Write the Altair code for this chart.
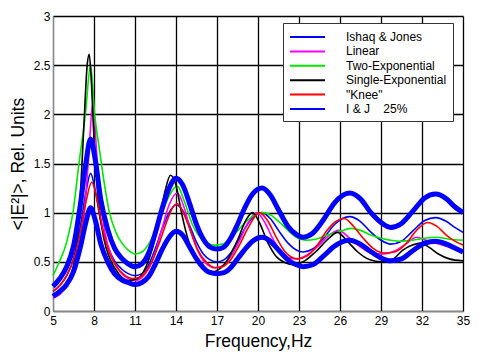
import altair as alt
import pandas as pd

SERIES = ["Ishaq & Jones", "Linear", "Two-Exponential", "Single-Exponential",
          "\"Knee\"", "I & J\u00a0\u00a0\u00a0\u00a025%"]
COLORS = ["#0000ff", "#ff00ff", "#00e600", "#000000", "#ff0000", "#0000ff"]
WIDTHS = [1.6, 1.6, 1.6, 1.6, 1.6, 5]

x_ticks = [5, 8, 11, 14, 17, 20, 23, 26, 29, 32, 35]
y_ticks = [0, 0.5, 1, 1.5, 2, 2.5, 3]

# Ishaq & Jones and its +/-25% band share the same frequencies
ij_x = [5, 5.5, 6, 6.5, 7, 7.4, 7.75, 8.1, 8.5, 9, 9.5, 10, 10.5, 11, 11.5, 12, 12.5, 13, 13.5, 14,
        14.5, 15, 15.5, 16, 16.5, 17, 17.5, 18, 18.5, 19, 19.6, 20.3, 20.9, 21.5, 22.2, 22.8, 23.3,
        24, 24.8, 25.6, 26.7, 27.5, 28.2, 29, 29.7, 30.5, 31.3, 32.2, 33, 33.8, 34.4, 35]
ij_y = [0.2, 0.26, 0.36, 0.53, 0.86, 1.2, 1.4, 1.22, 0.9, 0.66, 0.51, 0.43, 0.38, 0.36, 0.38, 0.47,
        0.64, 0.84, 1.0, 1.08, 1.02, 0.87, 0.7, 0.58, 0.52, 0.5, 0.52, 0.59, 0.7, 0.83, 0.95, 1.0,
        0.94, 0.82, 0.69, 0.62, 0.6, 0.63, 0.74, 0.88, 0.96, 0.91, 0.81, 0.72, 0.68, 0.71, 0.81,
        0.92, 0.95, 0.91, 0.85, 0.8]
ij_hi = [0.25, 0.33, 0.45, 0.66, 1.08, 1.5, 1.75, 1.53, 1.13, 0.83, 0.64, 0.54, 0.48, 0.45, 0.48,
         0.59, 0.8, 1.05, 1.25, 1.35, 1.28, 1.09, 0.88, 0.73, 0.65, 0.63, 0.65, 0.74, 0.88, 1.04,
         1.19, 1.25, 1.18, 1.03, 0.86, 0.78, 0.75, 0.79, 0.93, 1.1, 1.2, 1.14, 1.01, 0.9, 0.85,
         0.89, 1.01, 1.15, 1.19, 1.14, 1.06, 1.0]
ij_lo = [0.15, 0.2, 0.27, 0.4, 0.65, 0.9, 1.05, 0.92, 0.68, 0.5, 0.38, 0.32, 0.29, 0.27, 0.29,
         0.35, 0.48, 0.63, 0.75, 0.81, 0.77, 0.65, 0.53, 0.44, 0.39, 0.38, 0.39, 0.44, 0.53, 0.62,
         0.71, 0.75, 0.71, 0.62, 0.52, 0.47, 0.45, 0.47, 0.56, 0.66, 0.72, 0.68, 0.61, 0.54, 0.51,
         0.53, 0.61, 0.69, 0.71, 0.68, 0.64, 0.6]

lin_x = [5, 5.5, 6, 6.5, 7, 7.3, 7.6, 7.93, 8.15, 8.4, 8.8, 9.3, 9.9, 10.5, 11, 11.5, 12, 12.5, 13,
         13.5, 14.1, 14.6, 15.1, 15.7, 16.3, 16.9, 17.5, 18, 18.6, 19.2, 19.9, 20.5, 21.1, 21.7,
         22.3, 22.9, 23.6, 24.4, 25.2, 25.9, 26.7, 27.5, 28.3, 29.2, 30.0, 30.8, 31.6, 32.3, 33.0,
         34, 35]
lin_y = [0.13, 0.17, 0.25, 0.38, 0.65, 1.0, 1.55, 2.13, 1.7, 1.2, 0.8, 0.55, 0.4, 0.33, 0.31, 0.34,
         0.43, 0.6, 0.85, 1.08, 1.2, 1.05, 0.8, 0.58, 0.47, 0.44, 0.47, 0.55, 0.7, 0.88, 1.0, 0.9,
         0.73, 0.6, 0.54, 0.53, 0.57, 0.66, 0.77, 0.82, 0.74, 0.65, 0.59, 0.58, 0.61, 0.68, 0.75,
         0.72, 0.69, 0.65, 0.62]

two_x = [5, 5.4, 6, 6.46, 6.9, 7.37, 7.75, 8.05, 8.41, 8.75, 9.1, 9.6, 10.1, 10.5, 11, 11.5, 12,
         12.5, 13, 13.5, 14.1, 14.6, 15.2, 15.7, 16.2, 16.8, 17.4, 18, 18.6, 19.2, 19.8, 20.4, 21,
         21.6, 22.2, 22.8, 23.5, 24.2, 25, 26, 26.8, 27.5, 28.3, 29, 29.7, 30.5, 31.3, 32.2, 33,
         34, 35]
two_y = [0.36, 0.48, 0.7, 1.0, 1.5, 2.0, 2.5, 2.0, 1.63, 1.3, 1.02, 0.8, 0.68, 0.62, 0.58, 0.6,
         0.68, 0.82, 1.0, 1.17, 1.27, 1.12, 0.88, 0.76, 0.7, 0.67, 0.68, 0.74, 0.83, 0.92, 0.98,
         1.0, 0.97, 0.9, 0.82, 0.75, 0.72, 0.73, 0.77, 0.81, 0.84, 0.82, 0.77, 0.74, 0.72, 0.71,
         0.72, 0.74, 0.75, 0.73, 0.72]

one_x = [5, 5.5, 6, 6.5, 6.8, 7.05, 7.3, 7.5, 7.65, 7.8, 8.0, 8.3, 8.7, 9.2, 9.8, 10.5, 11.2,
         11.8, 12.3, 12.8, 13.2, 13.6, 14.0, 14.4, 14.9, 15.5, 16.1, 16.7, 17.3, 17.9, 18.5, 19.1,
         19.6, 20.1, 20.7, 21.3, 22.0, 22.6, 23.3, 24.2, 25.2, 25.8, 26.6, 27.3, 28.2, 29.0, 29.8,
         30.6, 31.3, 31.9, 32.5, 33.2, 34.0, 35]
one_y = [0.16, 0.2, 0.28, 0.46, 0.75, 1.3, 2.0, 2.5, 2.61, 2.35, 1.75, 1.15, 0.75, 0.52, 0.38,
         0.31, 0.33, 0.45, 0.65, 0.95, 1.22, 1.38, 1.28, 1.0, 0.72, 0.52, 0.43, 0.4, 0.44, 0.55,
         0.72, 0.92, 1.0, 0.9, 0.7, 0.56, 0.49, 0.47, 0.5, 0.6, 0.74, 0.8, 0.7, 0.6, 0.52, 0.5,
         0.52, 0.62, 0.67, 0.69, 0.65, 0.58, 0.53, 0.51]

knee_x = [5, 5.5, 6, 6.5, 7, 7.4, 7.83, 8.2, 8.6, 9.1, 9.6, 10.2, 10.8, 11.3, 11.8, 12.3, 12.8,
          13.3, 13.8, 14.1, 14.6, 15.1, 15.6, 16.2, 16.8, 17.4, 18, 18.6, 19.3, 20.1, 20.7, 21.3,
          22, 22.9, 23.6, 24.3, 25, 25.6, 26.3, 27, 27.7, 28.4, 29.2, 30, 30.8, 31.6, 32.4, 33.1,
          33.8, 34.4, 35]
knee_y = [0.2, 0.26, 0.36, 0.52, 0.8, 1.1, 1.31, 1.15, 0.85, 0.6, 0.46, 0.37, 0.33, 0.34, 0.4,
          0.52, 0.7, 0.9, 1.06, 1.09, 0.98, 0.8, 0.62, 0.5, 0.44, 0.45, 0.52, 0.66, 0.85, 1.0,
          0.92, 0.76, 0.6, 0.53, 0.56, 0.66, 0.81, 0.9, 0.94, 0.86, 0.74, 0.64, 0.59, 0.6, 0.68,
          0.82, 0.9, 0.86, 0.77, 0.71, 0.67]

lines = [
    (0, "ij", ij_x, ij_y),
    (1, "lin", lin_x, lin_y),
    (2, "two", two_x, two_y),
    (3, "one", one_x, one_y),
    (4, "knee", knee_x, knee_y),
    (5, "hi", ij_x, ij_hi),
    (5, "lo", ij_x, ij_lo),
]
rows = []
for k, lid, xs, ys in lines:
    for xv, yv in zip(xs, ys):
        rows.append({"series": SERIES[k], "line": lid, "w": WIDTHS[k], "f": xv, "v": yv})
df = pd.DataFrame(rows)

FONT = "Liberation Sans"

leg = alt.Legend(
    title=None, orient="none", legendX=230, legendY=7,
    symbolType="M-1,0H4", symbolSize=196, labelOffset=41,
    labelFont=FONT, labelFontSize=12, labelColor="#000", labelLimit=300,
    padding=6, rowPadding=0.4, strokeColor="#333", fillColor="white",
    cornerRadius=0, symbolStrokeWidth=2,
)

chart = alt.Chart(df).mark_line(interpolate="monotone").encode(
    x=alt.X("f:Q", scale=alt.Scale(domain=[5, 35], nice=False, zero=False),
            axis=alt.Axis(values=x_ticks, title="Frequency,Hz", labelFlush=False,
                          titlePadding=6)),
    y=alt.Y("v:Q", scale=alt.Scale(domain=[0, 3], nice=False),
            axis=alt.Axis(values=y_ticks, format="~g", title="<|E²|>, Rel. Units",
                          titlePadding=6)),
    color=alt.Color("series:N", scale=alt.Scale(domain=SERIES, range=COLORS), legend=leg),
    strokeWidth=alt.StrokeWidth("w:Q", scale=None, legend=None),
    detail="line:N",
).properties(
    width=410, height=295,
    padding={"left": 45, "top": 8, "right": 9, "bottom": 41},
    autosize=alt.AutoSizeParams(type="none"),
).configure_axis(
    labelFont=FONT, labelFontSize=12, labelColor="#000", labelPadding=4,
    titleFont=FONT, titleFontSize=17.5, titleFontWeight="normal", titleColor="#000",
    ticks=False, domainColor="#888", grid=True, gridColor="#000", gridOpacity=1, gridWidth=1.3,
).configure_axisY(
    labelPadding=3,
).configure_view(
    stroke="#c8c8c8", strokeDash=[1, 2],
)

chart.save("out.html", embed_options={"renderer": "svg", "actions": False})
